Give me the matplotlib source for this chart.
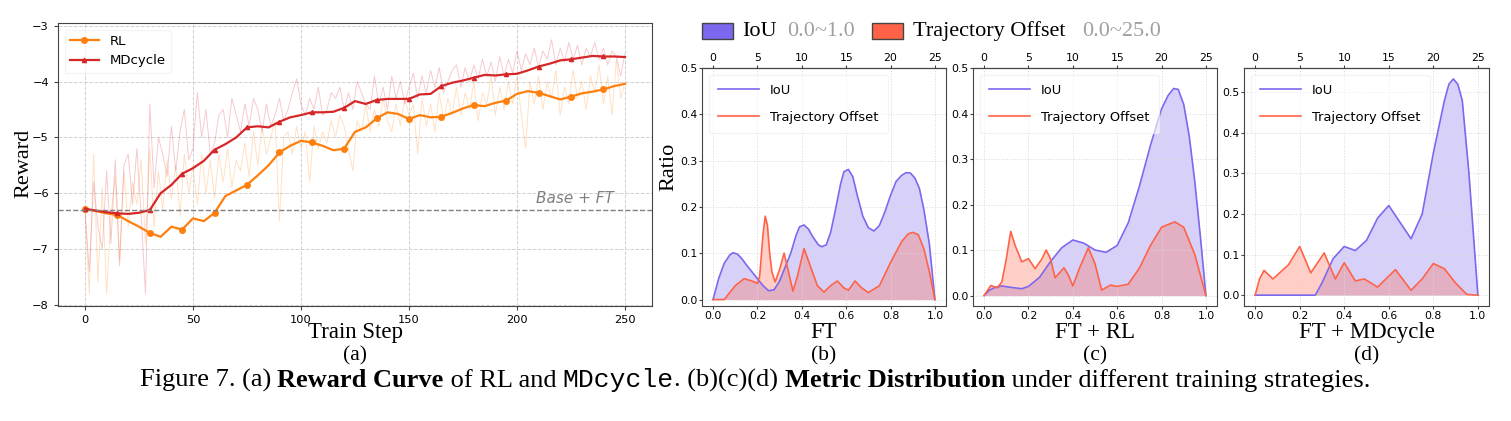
import numpy as np
import matplotlib
matplotlib.use('Agg')
import matplotlib.pyplot as plt
from matplotlib.patches import Rectangle

# ---- reward curve data (a) ----
steps_smooth = list(range(0, 251, 5))
rl_smooth = [-6.28, -6.32, -6.36, -6.39, -6.50, -6.60, -6.71, -6.78, -6.60, -6.65,
             -6.45, -6.50, -6.35, -6.05, -5.95, -5.85, -5.68, -5.50, -5.27, -5.15,
             -5.06, -5.09, -5.15, -5.23, -5.20, -4.90, -4.82, -4.66, -4.55, -4.58,
             -4.67, -4.60, -4.64, -4.63, -4.56, -4.48, -4.42, -4.44, -4.38, -4.34,
             -4.22, -4.17, -4.20, -4.26, -4.32, -4.27, -4.21, -4.18, -4.14, -4.08,
             -4.04]
md_smooth = [-6.28, -6.31, -6.34, -6.36, -6.37, -6.35, -6.30, -6.00, -5.85, -5.65,
             -5.55, -5.42, -5.22, -5.12, -5.00, -4.82, -4.80, -4.82, -4.72, -4.64,
             -4.60, -4.55, -4.55, -4.54, -4.47, -4.35, -4.40, -4.33, -4.31, -4.31,
             -4.31, -4.23, -4.22, -4.08, -4.02, -3.98, -3.93, -3.88, -3.89, -3.87,
             -3.86, -3.80, -3.73, -3.68, -3.62, -3.60, -3.57, -3.54, -3.55, -3.55,
             -3.56]

steps_raw = list(range(0, 251, 2))
md_raw = [-6.3, -7.4, -5.8, -6.6, -7.0, -5.6, -6.9, -5.4, -7.3, -5.5, -5.3, -6.2, -5.2, -6.4, -7.8, -4.4,
          -5.9, -5.0, -5.3, -5.7, -4.8, -5.6, -4.9, -4.5, -5.4, -5.2, -4.2, -5.0, -4.5, -5.3, -5.1,
          -4.6, -4.5, -5.0, -4.3, -4.6, -4.9, -4.4, -4.8, -4.3, -4.5, -4.9, -4.4, -4.8, -4.6, -4.3,
          -4.7, -4.5, -4.2, -3.95, -4.4, -4.6, -4.3, -4.5, -4.1, -4.6, -4.5, -4.2, -4.3, -4.1, -4.5,
          -4.2, -4.5, -4.0, -4.2, -4.4, -4.5, -3.9, -4.4, -4.1, -4.5, -3.9, -4.3, -4.0, -4.4, -4.1,
          -3.85, -4.3, -3.9, -4.2, -3.8, -4.1, -3.75, -4.2, -4.0, -3.8, -3.7, -4.1, -3.75, -4.0, -3.7,
          -3.95, -3.6, -3.9, -3.65, -4.0, -3.55, -3.9, -3.6, -3.85, -3.45,
          -3.8, -3.5, -3.7, -3.4, -3.75, -3.45, -3.6, -3.25, -3.7, -3.4,
          -3.65, -3.3, -3.6, -3.35, -3.7, -3.4, -3.55, -3.3, -3.6, -3.4,
          -3.7, -3.45, -3.55, -3.9, -3.5]
rl_raw = [-6.3, -7.8, -5.3, -7.6, -5.9, -7.8, -6.4, -5.7, -7.2, -5.6, -6.6, -5.8, -6.2, -5.4, -6.9, -5.2,
          -6.6, -5.6, -6.3, -5.4, -6.1, -5.5, -6.4, -5.3, -6.0, -5.5, -6.2, -5.3, -6.0, -5.4, -6.1,
          -5.3, -5.8, -5.2, -5.9, -5.4, -5.6, -5.1, -5.7, -4.9, -5.5, -4.8, -5.3, -5.0, -4.7, -6.5,
          -5.0, -4.9, -5.3, -4.8, -5.2, -4.9, -5.8, -4.8, -5.2, -4.9, -5.1, -4.7, -5.0, -4.6, -4.8,
          -5.2, -5.6, -4.7, -4.9, -4.4, -4.9, -4.5, -4.8, -4.3, -4.7, -4.9, -4.4, -4.8, -4.3, -4.6,
          -4.4, -5.3, -4.3, -4.8, -4.4, -4.9, -4.2, -4.7, -4.3, -4.6, -4.1, -4.6, -4.2, -4.5, -4.0,
          -4.7, -4.2, -4.4, -3.9, -4.6, -4.1, -4.5, -4.0, -4.4, -3.9,
          -4.6, -5.2, -4.0, -4.4, -3.9, -4.5, -4.0, -4.3, -3.8, -4.6,
          -4.1, -4.4, -3.8, -4.3, -4.0, -4.5, -3.9, -4.2, -3.7, -4.4,
          -3.9, -4.6, -3.6, -4.3, -4.0]
base_ft = -6.3

# ---- metric distribution data (b)(c)(d) ----
ft_iou_x = [0, .025, .05, .075, .09, .11, .13, .15, .175, .2, .225, .25, .275, .3, .325, .35, .375, .39,
            .41, .43, .45, .475, .49, .51, .53, .55, .575, .59, .61, .63, .65, .675, .7, .725, .75, .775,
            .8, .825, .85, .87, .89, .91, .93, .95, .975, 1.0]
ft_iou_y = [0, .045, .078, .096, .101, .098, .088, .075, .06, .045, .03, .019, .021, .04, .07, .10, .14, .157,
            .161, .152, .135, .118, .114, .118, .145, .19, .25, .276, .281, .265, .225, .18, .155, .148, .16, .19,
            .225, .255, .268, .274, .273, .262, .24, .195, .12, 0]
ft_traj_x = [0, .05, .1, .14, .175, .2, .21, .225, .235, .245, .255, .265, .28, .3, .32, .335, .36, .38, .41,
             .44, .47, .5, .53, .56, .59, .61, .64, .67, .7, .75, .8, .85, .88, .9, .925, .95, .975, 1.0]
ft_traj_y = [0, 0, .03, .045, .04, .035, .05, .14, .18, .16, .10, .06, .038, .065, .10, .07, .018, .05, .11,
             .07, .03, .016, .03, .04, .025, .02, .04, .025, .015, .03, .08, .125, .142, .145, .14, .11, .06, 0]

rl_iou_x = [0, .025, .05, .08, .12, .17, .2, .25, .3, .35, .4, .45, .5, .55, .6, .65, .7, .75, .8,
            .83, .855, .875, .9, .925, .95, .975, 1.0]
rl_iou_y = [0, .012, .018, .021, .018, .015, .02, .04, .075, .105, .122, .115, .10, .095, .11, .16,
            .24, .33, .41, .44, .455, .453, .42, .35, .25, .13, 0]
rl_traj_x = [0, .03, .06, .08, .1, .12, .14, .17, .2, .23, .26, .28, .3, .32, .36, .38, .4, .43, .47,
             .5, .53, .57, .6, .65, .7, .75, .8, .86, .9, .95, 1.0]
rl_traj_y = [0, .022, .017, .03, .08, .141, .11, .074, .081, .059, .08, .10, .08, .039, .061, .045,
             .021, .06, .105, .07, .012, .023, .02, .025, .06, .11, .15, .162, .15, .09, 0]

md_iou_x = [0, .27, .3, .35, .4, .45, .5, .55, .6, .65, .7, .75, .8, .85, .87, .89, .91, .93, .96, .98, 1.0]
md_iou_y = [0, 0, .03, .09, .12, .11, .135, .19, .221, .18, .139, .20, .35, .48, .52, .533, .52, .48, .30, .15, 0]
md_traj_x = [0, .02, .04, .08, .12, .15, .2, .25, .31, .36, .4, .45, .49, .55, .63, .7, .75, .8,
             .85, .9, .95, 1.0]
md_traj_y = [0, .04, .061, .04, .06, .075, .12, .055, .104, .04, .08, .035, .04, .02, .063, .012,
             .04, .078, .065, .03, .002, 0]

panels = [("FT", ft_iou_x, ft_iou_y, ft_traj_x, ft_traj_y, (-0.014, 0.5)),
          ("FT + RL", rl_iou_x, rl_iou_y, rl_traj_x, rl_traj_y, (-0.023, 0.5)),
          ("FT + MDcycle", md_iou_x, md_iou_y, md_traj_x, md_traj_y, (-0.0267, 0.56))]

W, H = 1511, 421
SERIF = 'Liberation Serif'
IOU_C = '#7b68ee'
TRAJ_C = '#ff6347'

fig = plt.figure(figsize=(W / 100, H / 100), dpi=100)


def box(l, t, r, b):
    return [l / W, 1 - b / H, (r - l) / W, (b - t) / H]


# ---- (a) reward curve ----
ax = fig.add_axes(box(58, 23, 652, 306))
ax.plot(steps_raw, rl_raw, color='#ff9a3c', lw=0.7, alpha=0.3)
ax.plot(steps_raw, md_raw, color='#e0505a', lw=0.7, alpha=0.3)
ax.plot(steps_smooth, rl_smooth, color='#ff7f0e', lw=1.6, marker='o', ms=4, markevery=3, label='RL')
ax.plot(steps_smooth, md_smooth, color='#d62728', lw=1.6, marker='^', ms=3, markevery=3, label='MDcycle')
ax.axhline(base_ft, color='#808080', ls='--', lw=1)
ax.text(245, base_ft + 0.07, 'Base + FT', style='italic', color='#808080', fontsize=11,
        ha='right', va='bottom')
ax.set_ylim(-8.02, -2.95)
ax.set_xticks([0, 50, 100, 150, 200, 250])
ax.set_yticks([-8, -7, -6, -5, -4, -3])
ax.grid(True, ls='--', color='#d0d0d0', lw=0.7)
ax.tick_params(labelsize=8.2, length=3, color='#444444')
for s in ax.spines.values():
    s.set_color('#444444')
ax.legend(loc='upper left', fontsize=9.5, framealpha=0.6, edgecolor='#eeeeee', handlelength=2.2)
fig.text(24 / W, 1 - 163 / H, 'Reward', family=SERIF, fontsize=16, rotation=90, ha='center', va='center')
fig.text(355 / W, 1 - 338 / H, 'Train Step', family=SERIF, fontsize=16.5, ha='center', va='baseline')
fig.text(355 / W, 1 - 360 / H, '(a)', family=SERIF, fontsize=15.5, ha='center', va='baseline')

# ---- (b)(c)(d) metric distribution ----
lefts = [(702, 946), (973, 1217), (1244, 1489)]
sub_labels = ['(b)', '(c)', '(d)']
for (title, ix, iy, tx, ty, ylim), (l, r), sl in zip(panels, lefts, sub_labels):
    bx = fig.add_axes(box(l, 68, r, 306))
    bx.plot(ix, iy, color=IOU_C, lw=1.2, label='IoU')
    bx.fill_between(ix, iy, color=IOU_C, alpha=0.3, lw=0)
    bx.plot(tx, ty, color=TRAJ_C, lw=1.2, label='Trajectory Offset')
    bx.fill_between(tx, ty, color=TRAJ_C, alpha=0.3, lw=0)
    bx.set_xlim(-0.05, 1.05)
    bx.set_ylim(*ylim)
    bx.set_xticks([0, 0.2, 0.4, 0.6, 0.8, 1.0])
    bx.set_yticks([0, 0.1, 0.2, 0.3, 0.4, 0.5])
    bx.grid(True, ls=':', color='#d8d8d8', lw=0.7)
    bx.tick_params(labelsize=7.8, length=2, pad=1.5, color='#444444')
    for s in bx.spines.values():
        s.set_color('#444444')
    top = bx.secondary_xaxis('top', functions=(lambda x: x * 25, lambda x: x / 25))
    top.set_xticks([0, 5, 10, 15, 20, 25])
    top.tick_params(labelsize=7.8, length=2, pad=1.5, color='#444444')
    bx.legend(loc='upper left', fontsize=9.4, framealpha=0.6, edgecolor='#eeeeee',
              handlelength=3.2, labelspacing=1.1, borderpad=0.7)
    cx = (l + r) / 2
    fig.text(cx / W, 1 - 338 / H, title, family=SERIF, fontsize=16.5, ha='center', va='baseline')
    fig.text(cx / W, 1 - 360 / H, sl, family=SERIF, fontsize=15.5, ha='center', va='baseline')

fig.text(669 / W, 1 - 167 / H, 'Ratio', family=SERIF, fontsize=16, rotation=90, ha='center', va='center')

# ---- shared legend above (b)-(d) ----
for x0, c in [(702, IOU_C), (872, TRAJ_C)]:
    fig.patches.append(Rectangle((x0 / W, 1 - 39 / H), 31 / W, 16 / H, transform=fig.transFigure,
                                 facecolor=c, edgecolor='#444444', lw=1))
fig.text(742 / W, 1 - 31 / H, 'IoU', family=SERIF, fontsize=16, va='center')
fig.text(787 / W, 1 - 31 / H, '0.0~1.0', family=SERIF, fontsize=16, va='center', color='#a0a0a0')
fig.text(913 / W, 1 - 31 / H, 'Trajectory Offset', family=SERIF, fontsize=16, va='center')
fig.text(1082 / W, 1 - 31 / H, '0.0~25.0', family=SERIF, fontsize=16, va='center', color='#a0a0a0')

# ---- caption with mixed fonts ----
pieces = [("Figure 7. (a) ", SERIF, 'normal'), ("Reward Curve", SERIF, 'bold'),
          (" of RL and ", SERIF, 'normal'), ("MDcycle", 'Liberation Mono', 'normal'),
          (". (b)(c)(d) ", SERIF, 'normal'), ("Metric Distribution", SERIF, 'bold'),
          (" under different training strategies.", SERIF, 'normal')]
renderer = fig.canvas.get_renderer()
texts = []
for s, fam, wt in pieces:
    t = fig.text(0, 1 - 387 / H, s, family=fam, weight=wt, fontsize=19, va='baseline')
    texts.append(t)
widths = [t.get_window_extent(renderer).width for t in texts]
x = 755 - sum(widths) / 2
for t, w in zip(texts, widths):
    t.set_x(x / W)
    x += w

fig.savefig('out.png', dpi=100)
